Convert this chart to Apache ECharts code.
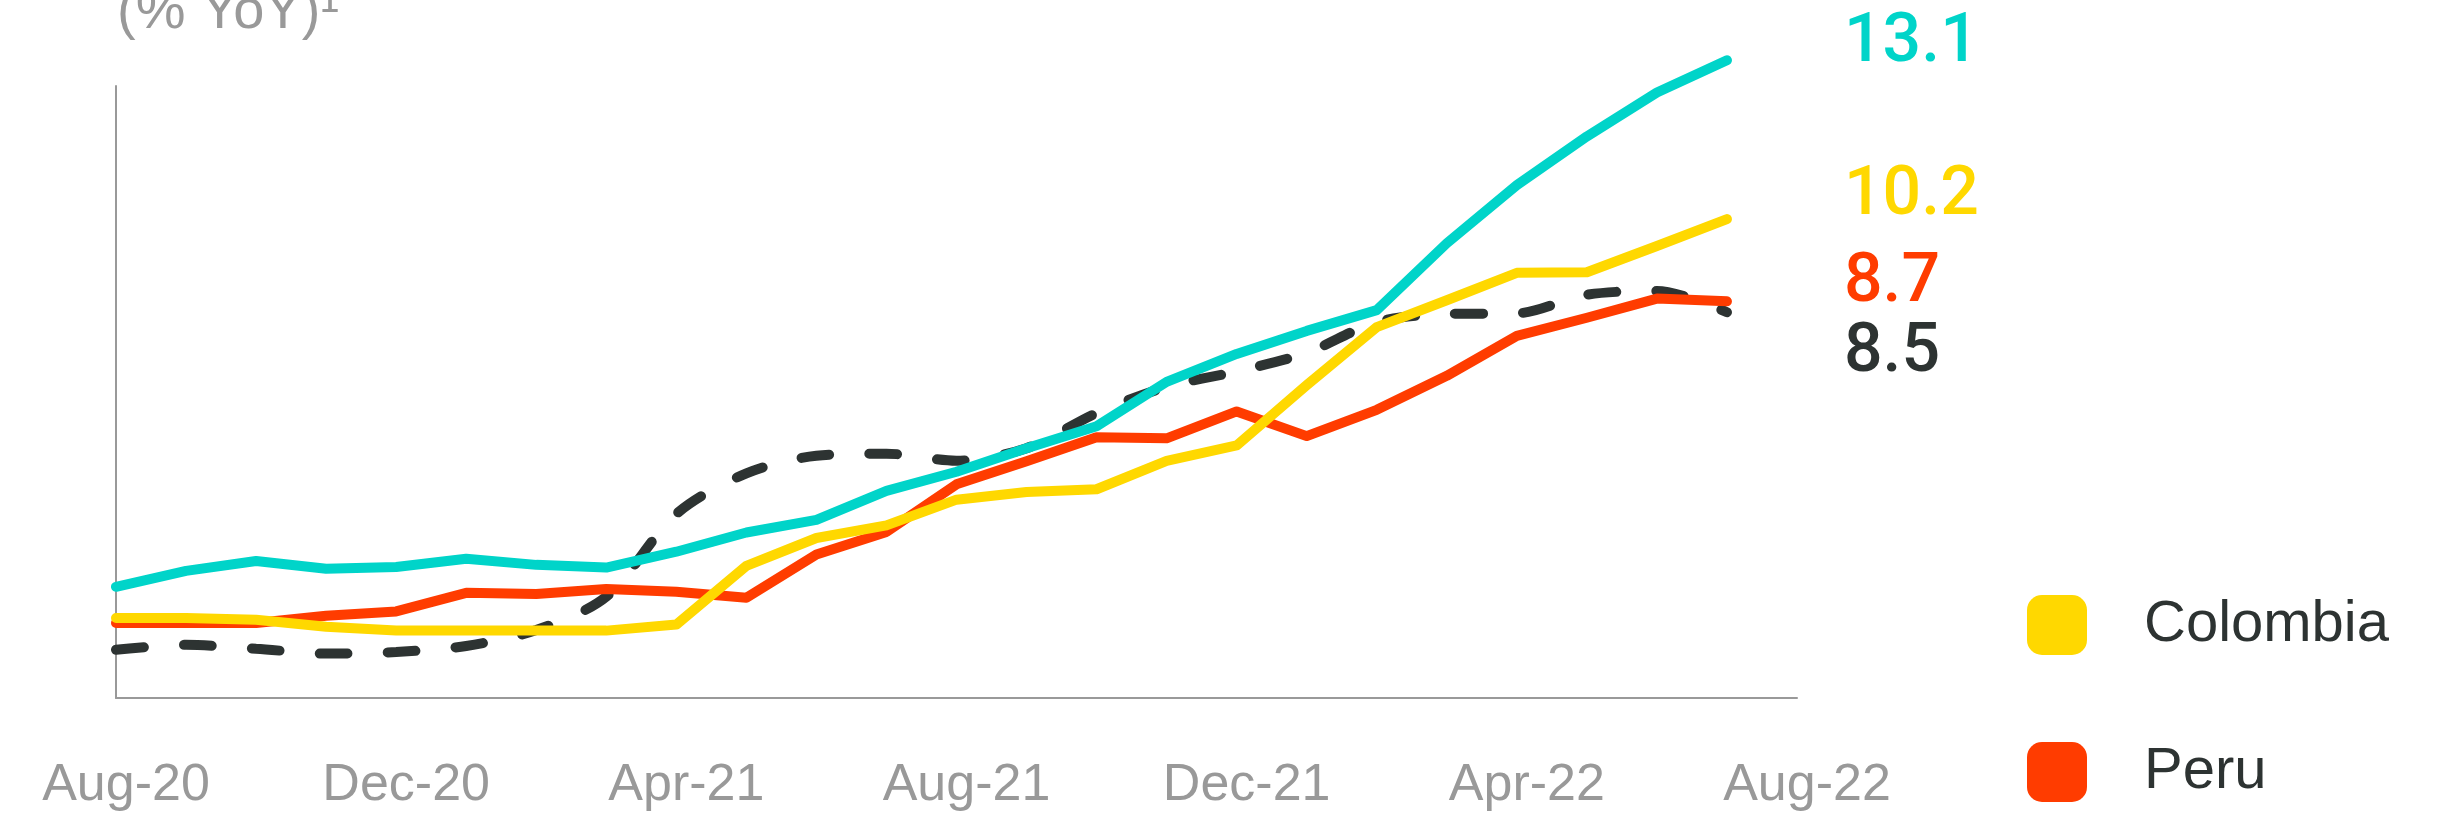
<!DOCTYPE html>
<html>
<head>
<meta charset="utf-8">
<script src="https://cdn.jsdelivr.net/npm/echarts@6/dist/echarts.min.js"></script>
<style>html,body{margin:0;padding:0;background:#fff;}#c{width:2444px;height:817px;}</style>
</head>
<body>
<div id="c"></div>
<script>
const categories = ['Aug-20','Sep-20','Oct-20','Nov-20','Dec-20','Jan-21','Feb-21','Mar-21','Apr-21','May-21','Jun-21','Jul-21','Aug-21','Sep-21','Oct-21','Nov-21','Dec-21','Jan-22','Feb-22','Mar-22','Apr-22','May-22','Jun-22','Jul-22','Aug-22'];
const chile    = [3.49,3.78,3.96,3.82,3.85,4.00,3.89,3.84,4.13,4.48,4.71,5.24,5.59,6.02,6.42,7.23,7.74,8.16,8.54,9.76,10.82,11.71,12.51,13.1];
const colombia = [2.92,2.92,2.89,2.76,2.69,2.69,2.69,2.69,2.80,3.87,4.38,4.61,5.08,5.22,5.27,5.79,6.07,7.17,8.23,8.72,9.22,9.23,9.71,10.2];
const peru     = [2.83,2.83,2.83,2.96,3.04,3.38,3.36,3.45,3.40,3.29,4.08,4.49,5.36,5.78,6.22,6.20,6.69,6.24,6.72,7.34,8.07,8.40,8.75,8.7];
const mexico   = [2.34,2.43,2.36,2.27,2.30,2.41,2.70,3.31,4.82,5.56,5.88,5.92,5.79,6.02,6.66,7.14,7.42,7.76,8.32,8.47,8.48,8.82,8.89,8.5];
const legendItems = ['Colombia','Peru'];
const titleText = '(% YoY)\u00B9';

const C_CYAN = '#00D4C9', C_YEL = '#FFD800', C_RED = '#FF3C00', C_DARK = '#2D3332', C_GRAY = '#999999';
const FONT = 'Liberation Sans';

function endLbl(color, dy) {
  return {
    show: true, distance: 0, offset: [117, dy],
    formatter: p => p.value, color: color,
    fontSize: 68, fontFamily: 'Roboto', fontWeight: 500
  };
}
function lineSeries(name, data, color, dy, extra) {
  return Object.assign({
    name, type: 'line', data, clip: false, showSymbol: false, symbol: 'none',
    itemStyle: { color },
    lineStyle: { color, width: 10, cap: 'round', join: 'round' },
    endLabel: endLbl(color, dy),
    emphasis: { disabled: true }
  }, extra || {});
}

const chart = echarts.init(document.getElementById('c'), null, { renderer: 'canvas' });
chart.setOption({
  animation: false,
  backgroundColor: '#fff',
  grid: { left: 116, top: 86, width: 1681, bottom: 119, containLabel: false },
  xAxis: {
    type: 'category', data: categories, boundaryGap: false,
    axisLine: { lineStyle: { color: C_GRAY, width: 2 } },
    axisTick: { show: false },
    axisLabel: { interval: 3, margin: 62, color: C_GRAY, fontSize: 52, fontFamily: FONT, padding: [0,0,0,20] },
    splitLine: { show: false }
  },
  yAxis: {
    type: 'value', min: 1.46, max: 12.63,
    axisLine: { show: true, lineStyle: { color: C_GRAY, width: 2 } },
    axisTick: { show: false }, axisLabel: { show: false }, splitLine: { show: false }
  },
  legend: {
    data: legendItems, orient: 'vertical', left: 2022, top: 590,
    icon: 'roundRect', itemWidth: 60, itemHeight: 60, itemGap: 87,
    itemStyle: { borderWidth: 0 },
    textStyle: { color: C_DARK, fontSize: 58, fontFamily: FONT, padding: [0,0,0,52] },
    selectedMode: false
  },
  graphic: [{
    type: 'text', x: 117, y: -15,
    style: { text: titleText, fontSize: 56, fontFamily: FONT, fill: C_GRAY, align: 'left', verticalAlign: 'top' }
  }],
  series: [
    lineSeries('Mexico', mexico, C_DARK, 42, { smooth: 0.3, lineStyle: { color: C_DARK, width: 10, cap: 'round', type: [28, 40] }, z: 1 }),
    lineSeries('Peru', peru, C_RED, -17, { z: 2 }),
    lineSeries('Colombia', colombia, C_YEL, -22, { z: 3 }),
    lineSeries('Chile', chile, C_CYAN, -16, { z: 4 })
  ]
});
</script>
</body>
</html>
